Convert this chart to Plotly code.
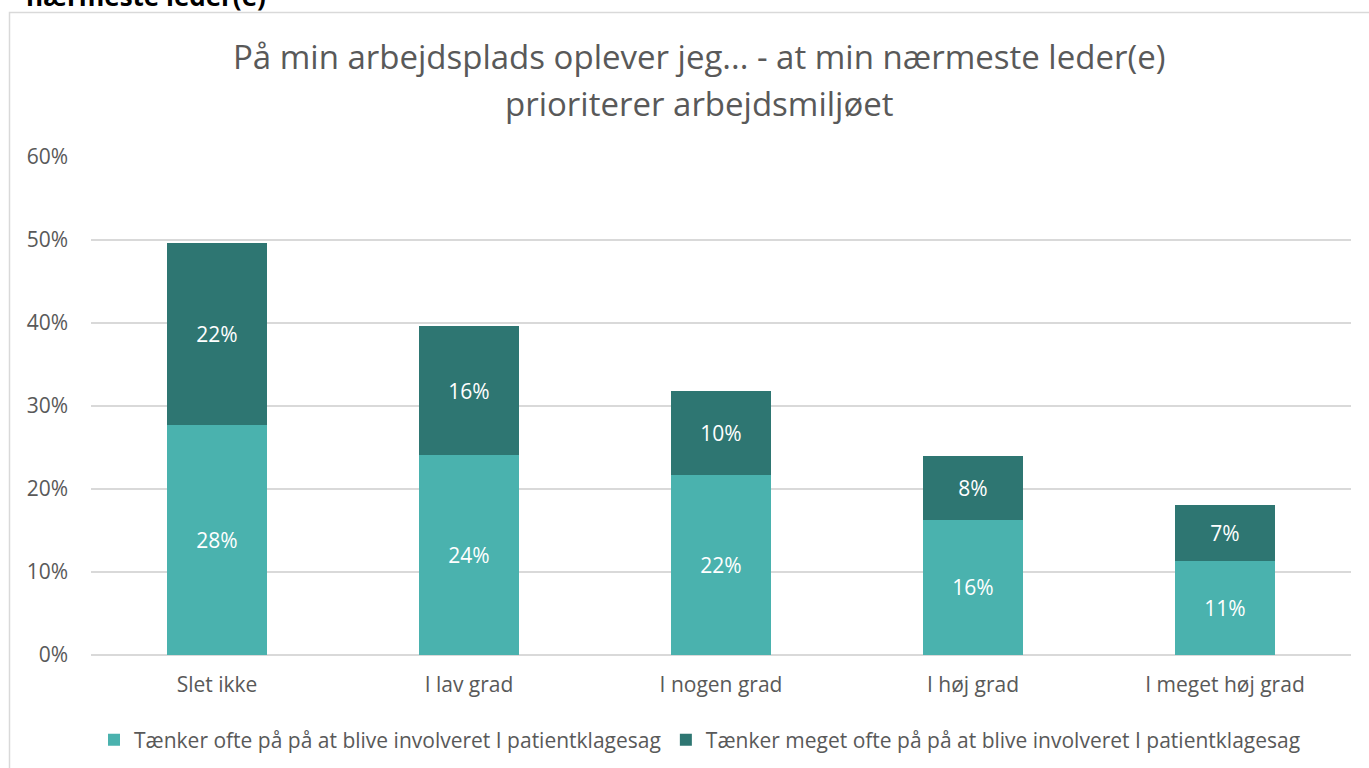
import plotly.graph_objects as go

categories = ["Slet ikke", "I lav grad", "I nogen grad", "I høj grad", "I meget høj grad"]
series_names = ["Tænker ofte på på at blive involveret I patientklagesag",
                "Tænker meget ofte på på at blive involveret I patientklagesag"]
ofte = [0.277, 0.241, 0.217, 0.163, 0.113]
meget_ofte = [0.219, 0.155, 0.101, 0.077, 0.068]
tick_vals = [0, 0.1, 0.2, 0.3, 0.4, 0.5, 0.6]
tick_text = ["0%", "10%", "20%", "30%", "40%", "50%", "60%"]
title_lines = ["På min arbejdsplads oplever jeg... - at min nærmeste leder(e)",
               "prioriterer arbejdsmiljøet"]
cut_heading = "nærmeste leder(e)"

light = "#4AB2AE"
dark = "#2E7672"
grey = "#595959"
FONT = "Open Sans"
FS = 21

W, H = 1369, 768
L, R, T, B = 91, 18, 157, 113

fig = go.Figure()
for name, vals, col in [(series_names[0], ofte, light), (series_names[1], meget_ofte, dark)]:
    fig.add_trace(go.Bar(
        x=categories, y=vals, name=name, marker=dict(color=col, line=dict(width=0)),
        text=[f"{round(v*100):.0f}%" for v in vals], textposition="inside",
        insidetextanchor="middle", textangle=0,
        textfont=dict(color="white", size=FS, family=FONT),
        width=0.4, hoverinfo="skip",
    ))

ph = H - T - B
pw = W - L - R
def px_x(p):
    return (p - L) / pw
def px_y(p):
    return (H - B - p) / ph

fig.update_layout(
    width=W, height=H, barmode="stack",
    margin=dict(l=L, r=R, t=T, b=B, autoexpand=False),
    paper_bgcolor="white", plot_bgcolor="white",
    font=dict(family=FONT, color=grey, size=FS),
    xaxis=dict(showgrid=False, showline=False, ticks="", ticklabelstandoff=15,
               tickfont=dict(size=FS, color=grey)),
    yaxis=dict(range=[0, 0.6], tickvals=tick_vals, ticktext=tick_text, showgrid=True,
               gridcolor="#D9D9D9", gridwidth=1.5, zeroline=True, zerolinecolor="#D9D9D9",
               zerolinewidth=1.5, showline=False, ticks="", ticklabelstandoff=22,
               tickfont=dict(size=FS, color=grey)),
    legend=dict(orientation="h", x=px_x(700), xanchor="center", y=px_y(740), yanchor="middle",
                font=dict(size=FS, color=grey), traceorder="normal", itemwidth=30),
    showlegend=True,
)

fig.add_shape(type="rect", xref="paper", yref="paper",
              x0=px_x(9.5), x1=px_x(1380), y0=px_y(12.5), y1=px_y(780),
              line=dict(color="#D9D9D9", width=1.5), fillcolor="rgba(0,0,0,0)", layer="below")

for line, ypx in zip(title_lines, [57, 103]):
    fig.add_annotation(text=line, xref="paper", yref="paper", x=px_x(699), xanchor="center",
                       y=px_y(ypx), yanchor="middle", showarrow=False,
                       font=dict(size=33, color=grey, family=FONT))

fig.add_annotation(text="<b>" + cut_heading + "</b>", xref="paper", yref="paper",
                   x=px_x(24), xanchor="left", y=px_y(16), yanchor="bottom",
                   showarrow=False, font=dict(size=26, color="black", family=FONT))

fig.write_html("out.html", config={"displayModeBar": False},
               post_script="document.body.style.margin='0';document.body.style.overflow='hidden';")
